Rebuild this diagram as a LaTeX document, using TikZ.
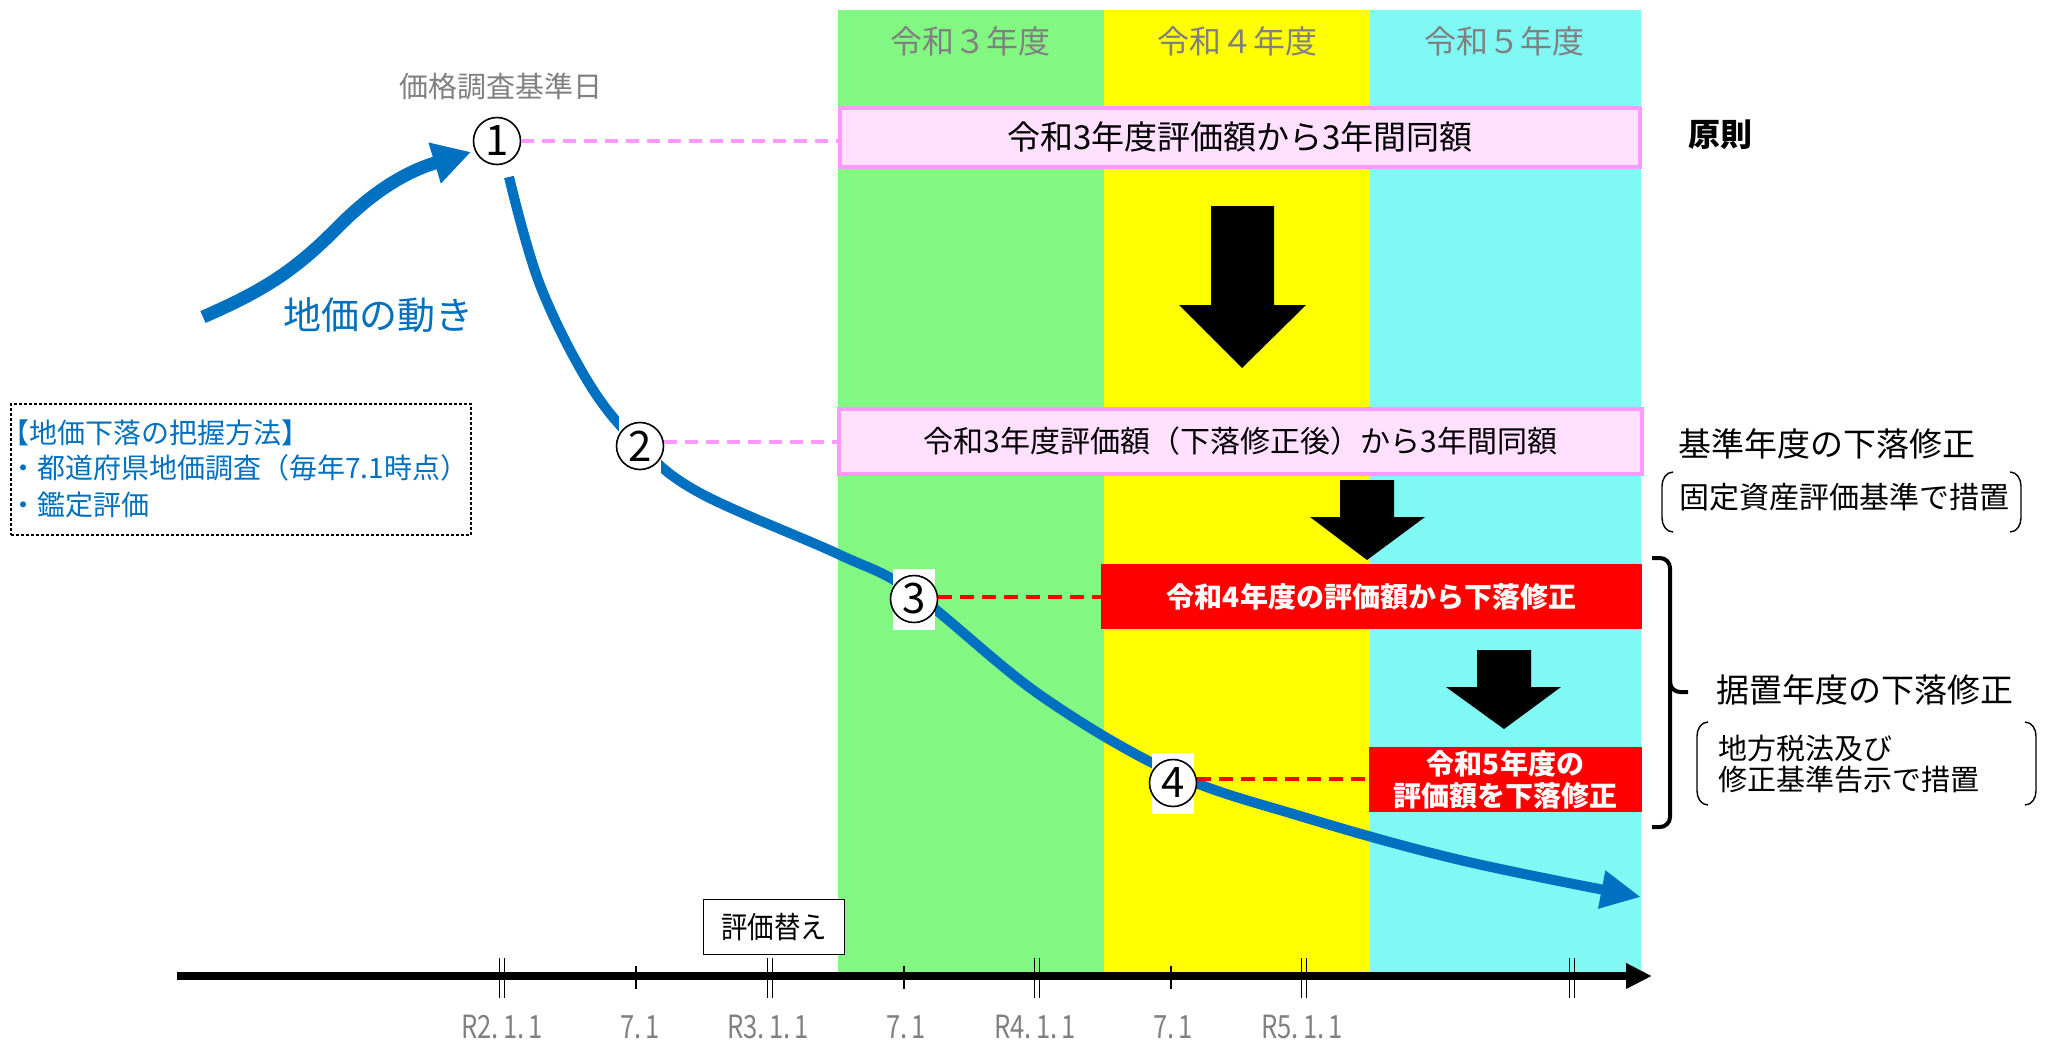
\documentclass[tikz,border=0pt]{standalone}
\usepackage{fontspec}
\setmainfont{Noto Sans CJK JP}
\usetikzlibrary{arrows.meta}
\definecolor{bandgreen}{HTML}{82F882}
\definecolor{bandyellow}{HTML}{FFFF00}
\definecolor{bandcyan}{HTML}{80F8F4}
\definecolor{pinkfill}{HTML}{FFE0FF}
\definecolor{pinkline}{HTML}{FF99FF}
\definecolor{curveblue}{HTML}{0070C0}
\definecolor{labelgray}{HTML}{808080}
\newcommand{\fsz}[1]{\fontsize{#1}{#1}\selectfont}
\begin{document}
\begin{tikzpicture}[x=0.5pt,y=-0.5pt,
  circ/.style={circle,draw=black,line width=0.8pt,fill=white,minimum size=23.5pt,inner sep=0pt,font=\fsz{21pt}},
  wbg/.style={fill=white,inner sep=0pt,minimum width=21pt,minimum height=30.5pt},
  pinkbox/.style={draw=pinkline,line width=2pt,fill=pinkfill,inner sep=0pt},
  redbox/.style={fill=red,text=white,inner sep=0pt,align=center,font=\bfseries\fontsize{14pt}{16pt}\selectfont},
  pinkdash/.style={draw=pinkline,line width=2pt,dash pattern=on 6.5pt off 4pt},
  reddash/.style={draw=red,line width=1.8pt,dash pattern=on 7pt off 4pt},
  heading/.style={text=labelgray,font=\fsz{16pt},inner sep=0pt},
  axlabel/.style={text=labelgray,font=\fsz{16pt},inner sep=0pt},
  bluetext/.style={text=curveblue,font=\fsz{14pt},inner sep=0pt,anchor=west},
  sidetext/.style={inner sep=0pt,anchor=west},
  paren/.style={line width=0.7pt}
]
\useasboundingbox (0,0) rectangle (2052,1040);
\fill[white] (0,0) rectangle (2052,1040);

% bands
\fill[bandgreen] (838,10) rectangle (1104,975);
\fill[bandyellow] (1104,10) rectangle (1370,975);
\fill[bandcyan] (1370,10) rectangle (1641,975);
\node[heading] (h3) at (970,41) {令和３年度};
\node[heading] (h4) at (1237,41) {令和４年度};
\node[heading] (h5) at (1504,41) {令和５年度};

% boxes
\node[pinkbox,minimum width=400pt,minimum height=29.5pt,font=\fsz{16.5pt}] (box1) at (1240,137) {令和3年度評価額から3年間同額};
\node[pinkbox,minimum width=401.5pt,minimum height=32.5pt,font=\fsz{15pt}] (box2) at (1240.5,441.5) {令和3年度評価額（下落修正後）から3年間同額};
\node[redbox,minimum width=270.5pt,minimum height=32.5pt] (red1) at (1371.5,596.5) {令和4年度の評価額から下落修正};
\node[redbox,minimum width=136.5pt,minimum height=32.5pt] (red2) at (1505.5,779.5) {令和5年度の\\評価額を下落修正};

% black arrows
\fill[black] (1211,206) -- (1274,206) -- (1274,305) -- (1306,305) -- (1242,368) -- (1179,305) -- (1211,305) -- cycle;
\fill[black] (1340,480) -- (1394,480) -- (1394,517) -- (1425,517) -- (1367,560) -- (1310,517) -- (1340,517) -- cycle;
\fill[black] (1477,650) -- (1531,650) -- (1531,687) -- (1561,687) -- (1504,729) -- (1446,687) -- (1477,687) -- cycle;

% right side texts
\node[font=\bfseries\fsz{16pt},inner sep=0pt] (gensoku) at (1720,135) {原則};
\node[sidetext,font=\fsz{16.5pt}] (kijun) at (1678,444) {基準年度の下落修正};
\node[sidetext,font=\fsz{15pt}] (kijun2) at (1679,497) {固定資産評価基準で措置};
\draw[paren] (1673,472) to[out=180,in=90] (1662,486) -- (1662,518) to[out=-90,in=180] (1673,532);
\draw[paren] (2010,472) to[out=0,in=90] (2021,486) -- (2021,518) to[out=-90,in=0] (2010,532);
\draw[line width=2pt,rounded corners=5pt] (1652,558) -- (1670,558) -- (1670,692) -- (1688,692);
\draw[line width=2pt,rounded corners=5pt] (1670,680) -- (1670,827) -- (1652,827);
\node[sidetext,font=\fsz{16.5pt}] (sueoki) at (1716,690) {据置年度の下落修正};
\node[sidetext,font=\fsz{14.5pt}] (chiho1) at (1718,748) {地方税法及び};
\node[sidetext,font=\fsz{14.5pt}] (chiho2) at (1718,780) {修正基準告示で措置};
\draw[paren] (1708,722) to[out=180,in=90] (1697,736) -- (1697,791) to[out=-90,in=180] (1708,805);
\draw[paren] (2025,722) to[out=0,in=90] (2036,736) -- (2036,791) to[out=-90,in=0] (2025,805);

% left box
\node[draw=black,line width=1.2pt,dash pattern=on 1.5pt off 1pt,minimum width=230pt,minimum height=65.5pt,inner sep=0pt] (lbox) at (241,469.5) {};
\node[bluetext] (lb1) at (1,433) {【地価下落の把握方法】};
\node[bluetext] (lb2) at (9,468) {・都道府県地価調査（毎年7.1時点）};
\node[bluetext] (lb3) at (9,505) {・鑑定評価};

% circle positions
\coordinate (p1) at (497,141);
\coordinate (p2) at (640,446);
\coordinate (p3) at (914,599);
\coordinate (p4) at (1173,783);

% labels
\node[text=labelgray,font=\fsz{14.5pt},inner sep=0pt] (kakaku) at (501,86) {価格調査基準日};
\node[text=curveblue,font=\fsz{19pt},inner sep=0pt] (chika) at (378,315) {地価の動き};

% rising arrow
\coordinate (rs) at (203,317);
\coordinate (re) at (471,152);
\draw[curveblue,line width=6.5pt,-{Triangle[length=19pt,width=20pt]}] (rs) .. controls (265,290) and (295,270) .. (335,230) .. controls (372,192) and (405,172) .. (re);

% falling curve
\draw[curveblue,line width=5pt,-{Triangle[length=20pt,width=18pt]}] plot[smooth,tension=0.6] coordinates {(509,177) (540,285) (590,385) (p2) (700,493) (838,554) (914,593) (1040,695) (1173,773) (1300,816) (1460,860) (1641,897)};

% white backgrounds and circles
\node[wbg] (w2) at (p2) {};
\node[wbg] (w3) at (p3) {};
\node[wbg] (w4) at (p4) {};
\node[circ] (c1) at (p1) {1};
\node[circ] (c2) at (p2) {2};
\node[circ] (c3) at (p3) {3};
\node[circ] (c4) at (p4) {4};

% connectors
\draw[pinkdash] (c1.east) -- (c1.east -| box1.west);
\draw[pinkdash] ([yshift=2pt]c2.east) -- ([yshift=2pt]c2.east -| box2.west);
\draw[reddash] ([yshift=1pt]c3.east) -- ([yshift=1pt]c3.east -| red1.west);
\draw[reddash] ([yshift=2pt]c4.east) -- ([yshift=2pt]c4.east -| red2.west);

% axis
\coordinate (ax0) at (177,976);
\coordinate (ax1) at (1652,976);
\draw[line width=4pt,-{Triangle[length=13pt,width=12pt]}] (ax0) -- (ax1);
\foreach \t in {502,770,1037,1304,1572}{
  \draw[line width=0.8pt] (\t-2.5,958) -- (\t-2.5,998) (\t+2.5,958) -- (\t+2.5,998);
}
\foreach \t in {636,904,1171}{
  \draw[line width=1pt] (\t,966) -- (\t,989);
}
\node[axlabel] (l1) at (502,1027) {\scalebox{0.8}[1]{R2.\,1.\,1}};
\node[axlabel] (l2) at (640,1027) {\scalebox{0.8}[1]{7.\,1}};
\node[axlabel] (l3) at (768,1027) {\scalebox{0.8}[1]{R3.\,1.\,1}};
\node[axlabel] (l4) at (906,1027) {\scalebox{0.8}[1]{7.\,1}};
\node[axlabel] (l5) at (1035,1027) {\scalebox{0.8}[1]{R4.\,1.\,1}};
\node[axlabel] (l6) at (1173,1027) {\scalebox{0.8}[1]{7.\,1}};
\node[axlabel] (l7) at (1302,1027) {\scalebox{0.8}[1]{R5.\,1.\,1}};

% evaluation box
\node[draw=black,line width=0.9pt,fill=white,minimum width=70.5pt,minimum height=27.5pt,inner sep=0pt,font=\fsz{15pt}] (hyoka) at (774,927) {\scalebox{0.88}[1]{評価替え}};
\end{tikzpicture}
\end{document}
